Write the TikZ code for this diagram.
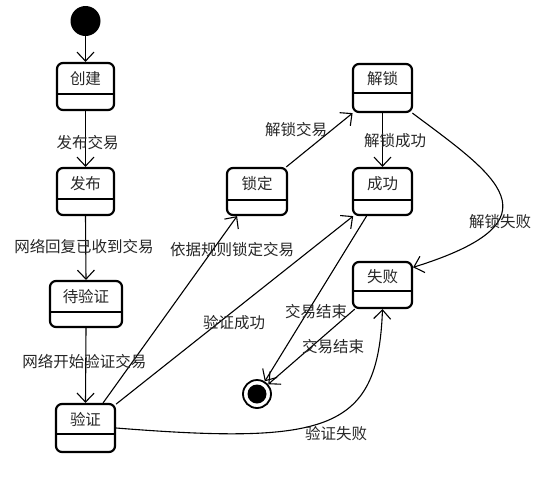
\documentclass[tikz,border=0pt]{standalone}
\usepackage{fontspec}
\newfontfamily\cjk{Noto Sans CJK SC}
\usetikzlibrary{arrows.meta,fit}
\tikzset{
  stbox/.style={draw, line width=2.2pt, rounded corners=6pt, inner sep=0pt},
  divline/.style={line width=1.5pt},
  txt/.style={font=\cjk\fontsize{15.5}{18}\selectfont, text=black!85, inner sep=0pt},
  conn/.style={line width=1.1pt, -{Straight Barb[length=9pt,width=17pt,line width=1.1pt]}},
}
\newcommand\umlstate[7]{%
  \node[stbox, fit={(#2,#3) (#4,#5)}] (#1) {};
  \draw[divline] (#2,#6) -- (#4,#6);
  \node[txt] (#1-t) at ({(#2+#4)/2},{(#3+#6)/2}) {#7};
}
\begin{document}
\begin{tikzpicture}[x=1pt,y=-1pt]
\useasboundingbox (0,0) rectangle (547,483);
% initial and final
\node[circle, fill=black, minimum size=30pt, inner sep=0pt] (init) at (85.5,21) {};
\node[circle, draw, line width=1.8pt, minimum size=28pt, inner sep=0pt] (fin) at (257,394) {};
\node[circle, fill=black, minimum size=19pt, inner sep=0pt] (fin-in) at (fin.center) {};
% states
\umlstate{cj}{57}{63}{114}{110}{94}{创建}
\umlstate{fb}{57}{168}{114}{215}{199}{发布}
\umlstate{dyz}{50}{281}{122}{327}{312}{待验证}
\umlstate{yz}{56}{404}{115}{452}{434}{验证}
\umlstate{sd}{227}{168}{287}{215}{200}{锁定}
\umlstate{js}{353}{64}{412}{112}{93}{解锁}
\umlstate{cg}{353}{168}{412}{215}{200}{成功}
\umlstate{sb}{353}{262}{412}{308}{291}{失败}
% connectors
\draw[conn] (init) -- (cj.north);
\draw[conn] (cj.south) -- (fb.north);
\draw[conn] (fb.south) -- (dyz.north);
\draw[conn] (dyz.south) -- (yz.north);
\draw[conn] (yz.55) -- (sd.231);
\draw[conn] (yz.38) -- (cg.220);
\draw[conn] (sd.40) -- (js.220);
\draw[conn] (js.south) -- (cg.north);
\draw[conn] (js.-40) .. controls (495,175) and (565,220) .. (sb.30);
\draw[conn] (cg.237) -- (fin);
\draw[conn] (sb.221) -- (fin);
\draw[conn] (yz.east) .. controls (330,445) and (378,430) .. (sb.south);
% labels
\node[txt] (l1) at (87.5,143) {发布交易};
\node[txt] (l2) at (84,247) {网络回复已收到交易};
\node[txt] (l3) at (84.5,362) {网络开始验证交易};
\node[txt] (l4) at (232,250) {依据规则锁定交易};
\node[txt] (l5) at (296,130) {解锁交易};
\node[txt] (l6) at (395,141) {解锁成功};
\node[txt] (l7) at (500,222) {解锁失败};
\node[txt] (l8) at (234,323) {验证成功};
\node[txt] (l9) at (316,312) {交易结束};
\node[txt] (l10) at (333,347) {交易结束};
\node[txt] (l11) at (336,434) {验证失败};
\end{tikzpicture}
\end{document}
